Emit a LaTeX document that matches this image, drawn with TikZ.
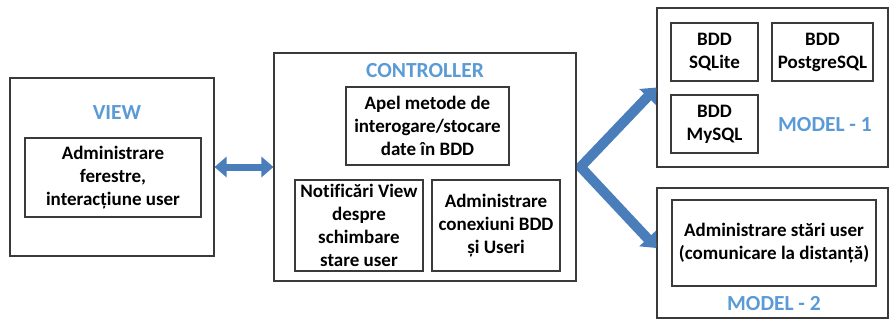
\documentclass[tikz,border=0pt]{standalone}
\usepackage{fontspec}
\setmainfont[Ligatures=NoCommon]{Carlito}
\usetikzlibrary{arrows.meta}
\definecolor{titleblue}{HTML}{5B9BD5}
\definecolor{arrowblue}{HTML}{4A7EBB}
\definecolor{boxline}{HTML}{3A3A3A}
\tikzset{
  box/.style={draw=boxline, line width=1.1pt, rectangle, inner sep=0pt, align=center,
    font=\bfseries\fontsize{19}{23}\selectfont, text=black},
  title/.style={font=\bfseries\fontsize{21.5}{24}\selectfont, text=titleblue, inner sep=0pt},
  dblarrow/.style={draw=arrowblue, line width=7pt,
    {Triangle[length=12pt,width=20pt]}-{Triangle[length=12pt,width=20pt]}},
  forkarrow/.style={draw=arrowblue, line width=10pt, line join=bevel,
    {Triangle[length=13pt,width=22pt]}-{Triangle[length=13pt,width=22pt]}}
}
\begin{document}
\begin{tikzpicture}[x=1pt,y=-1pt]
\useasboundingbox (0,0) rectangle (890,321);
% VIEW
\node[box, minimum width=204pt, minimum height=178pt] (view) at (112,167) {};
\node[title] (viewt) at (117,113) {VIEW};
\node[box, minimum width=176pt, minimum height=79pt] (viewin) at (113,177.5) {Administrare\\ferestre,\\interacțiune user};
% CONTROLLER
\node[box, minimum width=302pt, minimum height=228pt] (ctrl) at (425,167) {};
\node[title] (ctrlt) at (425,71) {CONTROLLER};
\node[box, minimum width=163pt, minimum height=78pt] (apel) at (427.5,126) {Apel metode de\\interogare/stocare\\date în BDD};
\node[box, minimum width=128pt, minimum height=91pt] (notif) at (359,225.5) {Notificări View\\despre\\schimbare\\stare user};
\node[box, minimum width=128pt, minimum height=91pt] (conex) at (496,225.5) {Administrare\\conexiuni BDD\\și Useri};
% MODEL 1
\node[box, minimum width=231pt, minimum height=159pt] (m1) at (772.5,87.5) {};
\node[box, minimum width=87pt, minimum height=58pt] (sqlite) at (714.5,52) {BDD\\SQLite};
\node[box, minimum width=101pt, minimum height=58pt] (pg) at (822.5,52) {BDD\\PostgreSQL};
\node[box, minimum width=87pt, minimum height=58pt] (mysql) at (714.5,124) {BDD\\MySQL};
\node[title] (m1t) at (825,125) {MODEL - 1};
% MODEL 2
\node[box, minimum width=231pt, minimum height=130pt] (m2) at (772.5,253) {};
\node[box, minimum width=204pt, minimum height=86pt] (stari) at (774,243) {Administrare stări user\\(comunicare la distanță)};
\node[title] (m2t) at (774,304) {MODEL - 2};
% arrows
\coordinate (j) at ([xshift=4pt]ctrl.east);
\coordinate (m2in) at ([yshift=5pt]m2.west);
\draw[dblarrow] (view.east) -- (ctrl.west);
\draw[forkarrow] (m2in) -- (j) -- (m1.west);
\end{tikzpicture}
\end{document}
